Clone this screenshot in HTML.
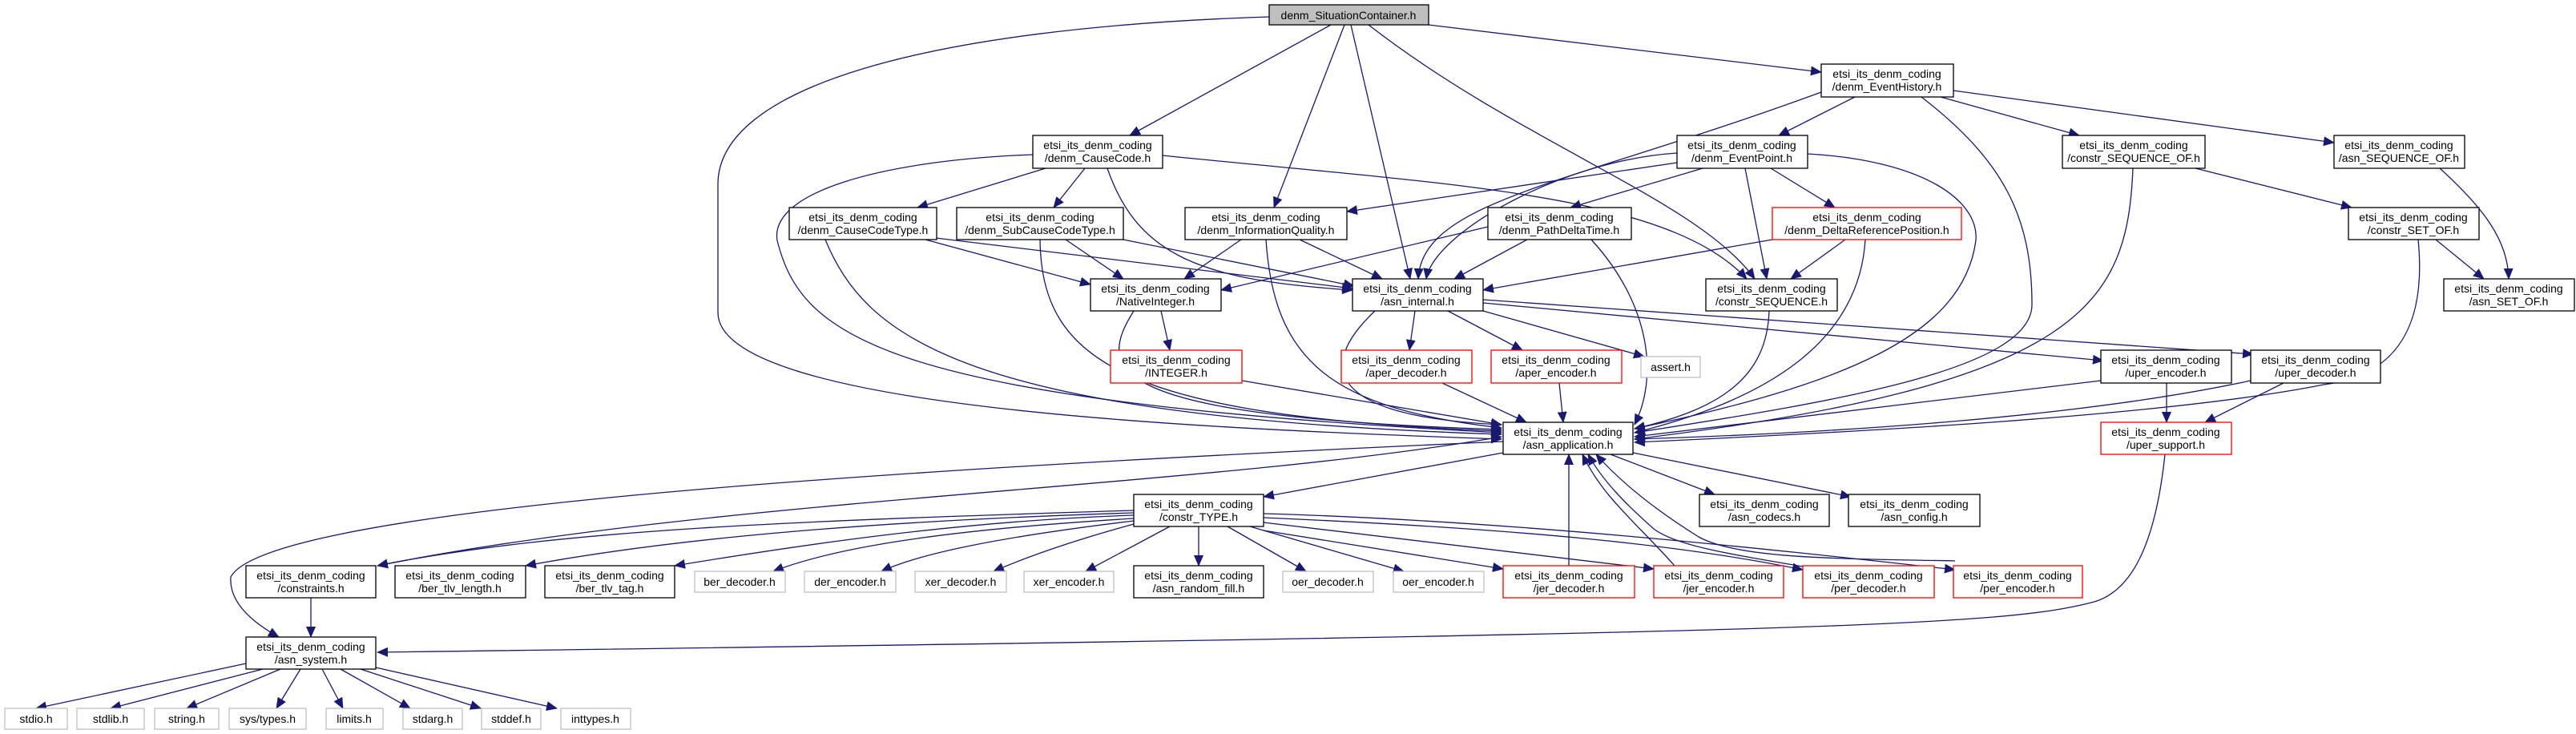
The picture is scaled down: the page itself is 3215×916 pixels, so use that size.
<!DOCTYPE html>
<html><head><meta charset="utf-8"><style>
html,body{margin:0;padding:0;background:#fff;}
svg{display:block;}
text{font-family:"Liberation Sans","DejaVu Sans",sans-serif;font-size:14px;fill:#000;text-anchor:middle;}
.n{fill:#fff;stroke:#000;stroke-width:1.3;}
.g{fill:#fff;stroke:#bfbfbf;stroke-width:1.3;}
.r{fill:#fff;stroke:#ff0000;stroke-width:1.3;}
.e{fill:none;stroke:#191970;stroke-width:1.3;marker-end:url(#a);}
</style></head><body>
<svg width="3215" height="916" viewBox="0 0 3215 916" xmlns="http://www.w3.org/2000/svg">
<defs><marker id="a" markerUnits="userSpaceOnUse" markerWidth="14" markerHeight="12" refX="13" refY="6" orient="auto"><path d="M0,0 L14,6 L0,12 z" fill="#191970"/></marker></defs>

<g>
<path class="e" d="M1584,21 C1150,35 896,110 896,230 L896,390 C896,510 1500,535 1874,548"/>
<path class="e" d="M1661,31 L1410,169"/>
<path class="e" d="M1678,31 L1590,259"/>
<path class="e" d="M1686,31 L1760,348"/>
<path class="e" d="M1708,31 C1900,180 2120,250 2190,348"/>
<path class="e" d="M1783,31 L2273,90"/>
<path class="e" d="M2315,121 L2220,169"/>
<path class="e" d="M2422,121 L2595,169"/>
<path class="e" d="M2438,113 L2913,178"/>
<path class="e" d="M2273,115 C1960,230 1775,250 1770,348"/>
<path class="e" d="M2398,121 C2500,200 2536,270 2536,380 C2536,460 2300,500 2040,540"/>
<path class="e" d="M2093,203 L1681,264"/>
<path class="e" d="M2093,191 C1950,200 1790,290 1780,348"/>
<path class="e" d="M2125,210 L1960,259"/>
<path class="e" d="M2210,210 L2290,259"/>
<path class="e" d="M2178,210 L2205,348"/>
<path class="e" d="M2256,192 C2400,200 2470,250 2466,300 C2450,420 2300,480 2040,535"/>
<path class="e" d="M1305,210 L1145,259"/>
<path class="e" d="M1354,210 L1315,259"/>
<path class="e" d="M1382,210 C1420,320 1500,350 1688,362"/>
<path class="e" d="M1451,194 C1800,230 2080,240 2180,348"/>
<path class="e" d="M1289,193 C1100,200 960,240 970,300 C1000,420 1100,500 1874,540"/>
<path class="e" d="M1155,299 L1361,355"/>
<path class="e" d="M1168,297 L1688,360"/>
<path class="e" d="M1030,299 C1080,420 1200,520 1874,542"/>
<path class="e" d="M1330,299 L1402,348"/>
<path class="e" d="M1402,299 L1690,357"/>
<path class="e" d="M1298,299 C1300,450 1400,520 1874,538"/>
<path class="e" d="M1549,299 L1478,348"/>
<path class="e" d="M1622,299 L1725,348"/>
<path class="e" d="M1580,299 C1590,450 1660,510 1874,534"/>
<path class="e" d="M1857,283 L1524,362"/>
<path class="e" d="M1906,299 L1815,348"/>
<path class="e" d="M1986,299 C2060,380 2070,470 2040,530"/>
<path class="e" d="M2212,299 L1851,362"/>
<path class="e" d="M2303,299 L2235,348"/>
<path class="e" d="M2328,299 C2320,430 2200,500 2040,540"/>
<path class="e" d="M2740,210 L2935,259"/>
<path class="e" d="M2662,210 C2655,380 2600,480 2040,548"/>
<path class="e" d="M3045,210 C3100,260 3130,300 3131,348"/>
<path class="e" d="M3040,299 L3100,348"/>
<path class="e" d="M3018,299 C3030,420 2980,470 2900,480 C2700,520 2300,540 2040,552"/>
<path class="e" d="M1449,388 L1460,437"/>
<path class="e" d="M1415,388 C1370,460 1370,520 1874,536"/>
<path class="e" d="M1766,388 L1759,437"/>
<path class="e" d="M1807,388 L1900,437"/>
<path class="e" d="M1851,388 L2052,445"/>
<path class="e" d="M1851,378 L2625,450"/>
<path class="e" d="M1851,374 L2812,442"/>
<path class="e" d="M1716,388 C1640,460 1660,520 1874,530"/>
<path class="e" d="M2208,388 C2205,470 2150,510 2040,535"/>
<path class="e" d="M1550,475 L1874,530"/>
<path class="e" d="M1800,478 L1905,527"/>
<path class="e" d="M1946,478 L1951,527"/>
<path class="e" d="M2622,475 L2040,545"/>
<path class="e" d="M2704,478 L2704,527"/>
<path class="e" d="M2850,478 L2752,527"/>
<path class="e" d="M2809,475 C2600,520 2300,540 2040,548"/>
<path class="e" d="M2702,567 C2690,680 2660,740 2610,752 C2500,780 2300,790 471,814"/>
<path class="e" d="M1876,565 L1577,620"/>
<path class="e" d="M2010,567 L2140,617"/>
<path class="e" d="M2038,565 L2310,620"/>
<path class="e" d="M1876,551 C1000,590 330,640 288,720 Q285,760 348,795"/>
<path class="e" d="M471,706 C900,620 1500,610 1874,545"/>
<path class="e" d="M1415,637 C1000,650 700,660 471,706"/>
<path class="e" d="M1415,640 C1100,650 850,670 656,706"/>
<path class="e" d="M1415,643 C1200,650 1000,680 842,706"/>
<path class="e" d="M1415,647 C1200,660 1050,680 965,713"/>
<path class="e" d="M1415,650 C1250,670 1150,690 1100,713"/>
<path class="e" d="M1415,654 C1320,680 1270,700 1240,713"/>
<path class="e" d="M1460,657 L1355,713"/>
<path class="e" d="M1496,657 L1496,706"/>
<path class="e" d="M1532,657 L1630,713"/>
<path class="e" d="M1560,657 L1752,713"/>
<path class="e" d="M1577,662 L1876,710"/>
<path class="e" d="M1577,652 L2064,710"/>
<path class="e" d="M1577,646 C1900,660 2100,680 2250,711"/>
<path class="e" d="M1577,641 C1900,650 2250,690 2440,711"/>
<path class="e" d="M1958,706 L1958,567"/>
<path class="e" d="M2090,706 C2040,650 2000,620 1975,567"/>
<path class="e" d="M2250,707 C2150,690 2090,680 2064,660 C2030,630 2000,600 1982,567"/>
<path class="e" d="M2440,700 C2300,697 2170,698 2120,670 C2080,645 2030,610 1992,567"/>
<path class="e" d="M388,746 L388,795"/>
<path class="e" d="M307,828 L45,884"/>
<path class="e" d="M328,835 L138,884"/>
<path class="e" d="M350,835 L233,884"/>
<path class="e" d="M375,835 L345,884"/>
<path class="e" d="M402,835 L428,884"/>
<path class="e" d="M425,835 L512,884"/>
<path class="e" d="M450,835 L600,884"/>
<path class="e" d="M469,833 L695,884"/>
</g>

<rect x="1584" y="6" width="199" height="25" fill="#bfbfbf" stroke="#000" stroke-width="1.3"/><text x="1683" y="24">denm_SituationContainer.h</text>

<rect class="n" x="2273" y="80" width="165" height="41"/><text x="2355" y="97">etsi_its_denm_coding</text><text x="2355" y="113">/denm_EventHistory.h</text>
<rect class="n" x="1289" y="169" width="162" height="41"/><text x="1370" y="186">etsi_its_denm_coding</text><text x="1370" y="202">/denm_CauseCode.h</text>
<rect class="n" x="2093" y="169" width="163" height="41"/><text x="2174" y="186">etsi_its_denm_coding</text><text x="2174" y="202">/denm_EventPoint.h</text>
<rect class="n" x="2574" y="169" width="178" height="41"/><text x="2663" y="186">etsi_its_denm_coding</text><text x="2663" y="202">/constr_SEQUENCE_OF.h</text>
<rect class="n" x="2913" y="169" width="163" height="41"/><text x="2994" y="186">etsi_its_denm_coding</text><text x="2994" y="202">/asn_SEQUENCE_OF.h</text>

<rect class="n" x="985" y="259" width="184" height="40"/><text x="1077" y="276">etsi_its_denm_coding</text><text x="1077" y="292">/denm_CauseCodeType.h</text>
<rect class="n" x="1194" y="259" width="208" height="40"/><text x="1298" y="276">etsi_its_denm_coding</text><text x="1298" y="292">/denm_SubCauseCodeType.h</text>
<rect class="n" x="1479" y="259" width="202" height="40"/><text x="1580" y="276">etsi_its_denm_coding</text><text x="1580" y="292">/denm_InformationQuality.h</text>
<rect class="n" x="1857" y="259" width="179" height="40"/><text x="1946" y="276">etsi_its_denm_coding</text><text x="1946" y="292">/denm_PathDeltaTime.h</text>
<rect class="r" x="2212" y="259" width="236" height="40"/><text x="2330" y="276">etsi_its_denm_coding</text><text x="2330" y="292">/denm_DeltaReferencePosition.h</text>
<rect class="n" x="2931" y="259" width="163" height="40"/><text x="3012" y="276">etsi_its_denm_coding</text><text x="3012" y="292">/constr_SET_OF.h</text>

<rect class="n" x="1361" y="348" width="163" height="40"/><text x="1442" y="365">etsi_its_denm_coding</text><text x="1442" y="381">/NativeInteger.h</text>
<rect class="n" x="1688" y="348" width="163" height="40"/><text x="1769" y="365">etsi_its_denm_coding</text><text x="1769" y="381">/asn_internal.h</text>
<rect class="n" x="2129" y="348" width="164" height="40"/><text x="2211" y="365">etsi_its_denm_coding</text><text x="2211" y="381">/constr_SEQUENCE.h</text>
<rect class="n" x="3050" y="348" width="163" height="40"/><text x="3131" y="365">etsi_its_denm_coding</text><text x="3131" y="381">/asn_SET_OF.h</text>

<rect class="r" x="1386" y="437" width="164" height="41"/><text x="1468" y="454">etsi_its_denm_coding</text><text x="1468" y="470">/INTEGER.h</text>
<rect class="r" x="1674" y="437" width="163" height="41"/><text x="1755" y="454">etsi_its_denm_coding</text><text x="1755" y="470">/aper_decoder.h</text>
<rect class="r" x="1861" y="437" width="163" height="41"/><text x="1942" y="454">etsi_its_denm_coding</text><text x="1942" y="470">/aper_encoder.h</text>
<rect class="g" x="2048" y="445" width="74" height="26"/><text x="2085" y="463">assert.h</text>
<rect class="n" x="2622" y="437" width="163" height="41"/><text x="2703" y="454">etsi_its_denm_coding</text><text x="2703" y="470">/uper_encoder.h</text>
<rect class="n" x="2809" y="437" width="162" height="41"/><text x="2890" y="454">etsi_its_denm_coding</text><text x="2890" y="470">/uper_decoder.h</text>

<rect class="n" x="1876" y="527" width="162" height="40"/><text x="1957" y="544">etsi_its_denm_coding</text><text x="1957" y="560">/asn_application.h</text>
<rect class="r" x="2622" y="527" width="163" height="40"/><text x="2703" y="544">etsi_its_denm_coding</text><text x="2703" y="560">/uper_support.h</text>

<rect class="n" x="1415" y="617" width="162" height="40"/><text x="1496" y="634">etsi_its_denm_coding</text><text x="1496" y="650">/constr_TYPE.h</text>
<rect class="n" x="2121" y="617" width="162" height="40"/><text x="2202" y="634">etsi_its_denm_coding</text><text x="2202" y="650">/asn_codecs.h</text>
<rect class="n" x="2307" y="617" width="164" height="40"/><text x="2389" y="634">etsi_its_denm_coding</text><text x="2389" y="650">/asn_config.h</text>

<rect class="n" x="307" y="706" width="162" height="40"/><text x="388" y="723">etsi_its_denm_coding</text><text x="388" y="739">/constraints.h</text>
<rect class="n" x="493" y="706" width="163" height="40"/><text x="574" y="723">etsi_its_denm_coding</text><text x="574" y="739">/ber_tlv_length.h</text>
<rect class="n" x="680" y="706" width="162" height="40"/><text x="761" y="723">etsi_its_denm_coding</text><text x="761" y="739">/ber_tlv_tag.h</text>
<rect class="g" x="867" y="713" width="113" height="26"/><text x="923" y="731">ber_decoder.h</text>
<rect class="g" x="1004" y="713" width="114" height="26"/><text x="1061" y="731">der_encoder.h</text>
<rect class="g" x="1142" y="713" width="114" height="26"/><text x="1199" y="731">xer_decoder.h</text>
<rect class="g" x="1278" y="713" width="112" height="26"/><text x="1334" y="731">xer_encoder.h</text>
<rect class="n" x="1415" y="706" width="162" height="40"/><text x="1496" y="723">etsi_its_denm_coding</text><text x="1496" y="739">/asn_random_fill.h</text>
<rect class="g" x="1601" y="713" width="113" height="26"/><text x="1657" y="731">oer_decoder.h</text>
<rect class="g" x="1739" y="713" width="113" height="26"/><text x="1795" y="731">oer_encoder.h</text>
<rect class="r" x="1876" y="706" width="164" height="40"/><text x="1958" y="723">etsi_its_denm_coding</text><text x="1958" y="739">/jer_decoder.h</text>
<rect class="r" x="2064" y="706" width="162" height="40"/><text x="2145" y="723">etsi_its_denm_coding</text><text x="2145" y="739">/jer_encoder.h</text>
<rect class="r" x="2250" y="706" width="164" height="40"/><text x="2332" y="723">etsi_its_denm_coding</text><text x="2332" y="739">/per_decoder.h</text>
<rect class="r" x="2438" y="706" width="161" height="40"/><text x="2518" y="723">etsi_its_denm_coding</text><text x="2518" y="739">/per_encoder.h</text>

<rect class="n" x="307" y="795" width="162" height="40"/><text x="388" y="812">etsi_its_denm_coding</text><text x="388" y="828">/asn_system.h</text>

<rect class="g" x="6" y="884" width="78" height="26"/><text x="45" y="902">stdio.h</text>
<rect class="g" x="96" y="884" width="84" height="26"/><text x="138" y="902">stdlib.h</text>
<rect class="g" x="193" y="884" width="80" height="26"/><text x="233" y="902">string.h</text>
<rect class="g" x="286" y="884" width="96" height="26"/><text x="334" y="902">sys/types.h</text>
<rect class="g" x="407" y="884" width="71" height="26"/><text x="442" y="902">limits.h</text>
<rect class="g" x="503" y="884" width="74" height="26"/><text x="540" y="902">stdarg.h</text>
<rect class="g" x="601" y="884" width="74" height="26"/><text x="638" y="902">stddef.h</text>
<rect class="g" x="700" y="884" width="87" height="26"/><text x="743" y="902">inttypes.h</text>
</svg>
</body></html>
